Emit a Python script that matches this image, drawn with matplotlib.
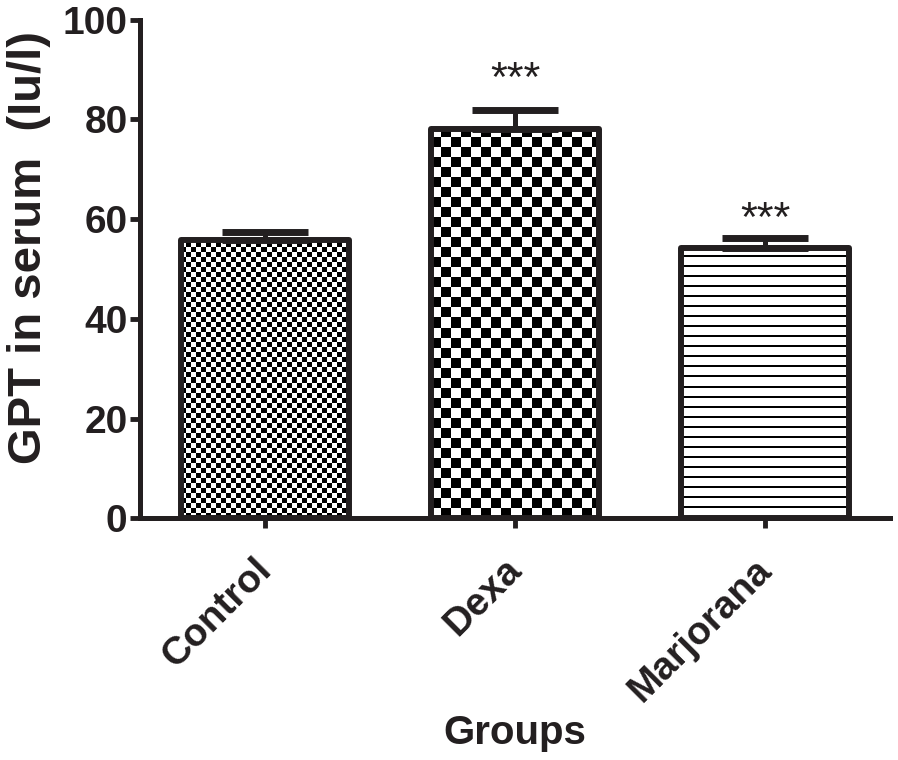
import numpy as np
import matplotlib
matplotlib.use("Agg")
import matplotlib.pyplot as plt
from matplotlib.transforms import ScaledTranslation

# Data
groups = ["Control", "Dexa", "Marjorana"]
gpt_mean = [55.8, 78.0, 54.2]
gpt_sem = [1.6, 4.0, 2.0]
stars = ["", "***", "***"]
star_y = [None, 88.0, 59.8]

plt.rcParams['font.family'] = ['Liberation Sans', 'DejaVu Sans']

fig = plt.figure(figsize=(8.98, 7.6), dpi=100)
ax = fig.add_axes([0.156, 0.318, 0.835, 0.656])

x = np.arange(len(groups))
bars = ax.bar(x, gpt_mean, width=0.67, facecolor='none', edgecolor='#231f20',
              linewidth=4.3, joinstyle='round', zorder=3)

# upper error bars only
ax.errorbar(x, gpt_mean, yerr=[np.zeros(len(x)), gpt_sem], fmt='none',
            ecolor='#231f20', elinewidth=3.6, capsize=31, capthick=5, zorder=2)

ax.set_xlim(-0.5, 2.5)
ax.set_ylim(0, 100)

# fill patterns: small checks, big checks, horizontal stripes
fig.canvas.draw()
patterns = ["check5", "check10", "stripes"]
for bar, pat in zip(bars, patterns):
    bb = bar.get_window_extent()
    w_px, h_px = int(bb.width), int(bb.height)
    xx, yy = np.meshgrid(np.arange(w_px), np.arange(h_px))
    if pat == "check5":
        img = ((xx // 5 + yy // 5) % 2).astype(float)
    elif pat == "check10":
        img = ((xx // 10 + yy // 10) % 2).astype(float)
    else:
        img = ((yy % 10) < 2).astype(float)
    x0, y0 = bar.get_x(), bar.get_y()
    im = ax.imshow(img, cmap='gray_r', vmin=0, vmax=1, interpolation='nearest',
                   extent=(x0, x0 + bar.get_width(), y0, y0 + bar.get_height()),
                   origin='lower', aspect='auto', zorder=1)
    im.set_clip_path(bar)
ax.set_xlim(-0.5, 2.5)
ax.set_ylim(0, 100)

for xi, s, sy in zip(x, stars, star_y):
    if s:
        ax.text(xi, sy, s, ha='center', va='center', fontsize=31, color='#231f20')

for side in ['top', 'right']:
    ax.spines[side].set_visible(False)
for side in ['left', 'bottom']:
    ax.spines[side].set_linewidth(3.6)
    ax.spines[side].set_color('#231f20')

ax.set_yticks([0, 20, 40, 60, 80, 100])
ax.set_xticks(x)
ax.set_xticklabels(groups, rotation=45, ha='right', rotation_mode='anchor')
ax.tick_params(axis='both', direction='out', length=7, width=3.5, color='#231f20',
               labelsize=28, labelcolor='#231f20')
ax.tick_params(axis='y', pad=2)
ax.tick_params(axis='x', pad=17)
shift = ScaledTranslation(-0.12, 0, fig.dpi_scale_trans)
for lab in ax.get_xticklabels():
    lab.set_transform(lab.get_transform() + shift)
for lab in ax.get_xticklabels() + ax.get_yticklabels():
    lab.set_fontweight('bold')

ax.set_ylabel("GPT in serum  (Iu/l)", fontsize=34, fontweight='bold', color='#231f20', labelpad=8)
ax.yaxis.label.set_y(0.543)
ax.set_xlabel("Groups", fontsize=29, fontweight='bold', color='#231f20', labelpad=4)

fig.savefig("out.png", dpi=100)
